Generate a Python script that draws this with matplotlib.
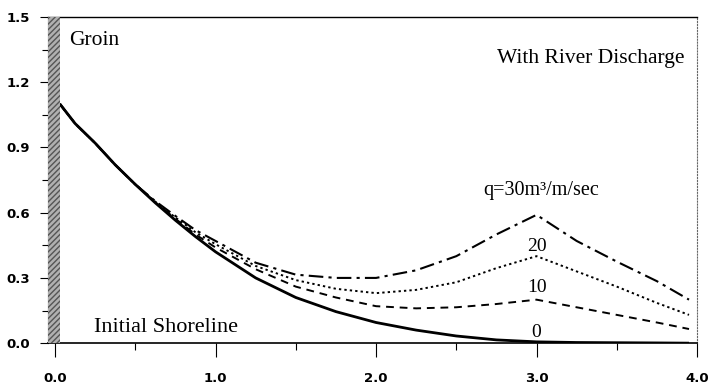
import matplotlib.pyplot as plt
from matplotlib.patches import Rectangle

# distance from groin and shoreline position
x = [0.03, 0.125, 0.25, 0.375, 0.5, 0.625, 0.75, 0.875, 1.0, 1.25, 1.5, 1.75, 2.0,
     2.25, 2.5, 2.75, 3.0, 3.25, 3.5, 3.75, 3.95]
y_q0 = [1.10, 1.01, 0.92, 0.82, 0.73, 0.645, 0.565, 0.49, 0.42, 0.30, 0.21, 0.145, 0.095,
        0.06, 0.033, 0.015, 0.006, 0.003, 0.002, 0.001, 0.0]
y_q10 = [1.10, 1.01, 0.92, 0.82, 0.73, 0.648, 0.572, 0.50, 0.44, 0.34, 0.26, 0.21, 0.17,
         0.16, 0.165, 0.18, 0.20, 0.165, 0.13, 0.095, 0.065]
y_q20 = [1.10, 1.01, 0.92, 0.82, 0.73, 0.65, 0.578, 0.51, 0.455, 0.355, 0.29, 0.25, 0.23,
         0.245, 0.28, 0.345, 0.40, 0.33, 0.26, 0.185, 0.13]
y_q30 = [1.10, 1.01, 0.92, 0.82, 0.73, 0.653, 0.585, 0.52, 0.47, 0.37, 0.315, 0.30, 0.30,
         0.335, 0.40, 0.50, 0.59, 0.47, 0.375, 0.285, 0.20]

x_ticks = [0.0, 1.0, 2.0, 3.0, 4.0]
y_ticks = [0.0, 0.3, 0.6, 0.9, 1.2, 1.5]

serif = ["Liberation Serif", "DejaVu Serif"]

fig = plt.figure(figsize=(7.13, 3.86), dpi=100)
ax = fig.add_axes([0.0673, 0.111, 0.9103, 0.845])

ax.plot(x, y_q0, color="black", lw=2.0, solid_capstyle="butt")
ax.plot(x, y_q10, color="black", lw=1.4, linestyle=(0, (4, 3)))
ax.plot(x, y_q20, color="black", lw=1.4, linestyle=(0, (1.2, 1.6)))
ax.plot(x, y_q30, color="black", lw=1.5, linestyle=(0, (7, 2.5, 1.5, 2.5)))

# groin
ax.add_patch(Rectangle((-0.044, 0), 0.074, 1.5, facecolor="#b0b0b0",
                       edgecolor="#555555", hatch="//////", lw=0, zorder=3))

ax.set_xlim(-0.044, 4.0)
ax.set_ylim(0, 1.5)
ax.set_xticks(x_ticks)
ax.set_xticklabels(["%.1f" % v for v in x_ticks])
ax.set_yticks(y_ticks)
ax.set_yticklabels(["%.1f" % v for v in y_ticks])
ax.set_xticks([0.5, 1.5, 2.5, 3.5], minor=True)
ax.set_yticks([0.15, 0.45, 0.75, 1.05, 1.35], minor=True)

ax.tick_params(axis="x", which="major", direction="out", length=10, width=0.8, pad=11)
ax.tick_params(axis="x", which="minor", direction="out", length=5, width=0.8)
ax.tick_params(axis="y", which="major", direction="out", length=6, width=0.8, pad=7)
ax.tick_params(axis="y", which="minor", direction="out", length=4, width=0.8)
for lab in ax.get_xticklabels() + ax.get_yticklabels():
    lab.set_fontfamily(["DejaVu Sans"])
    lab.set_fontweight("bold")
    lab.set_fontsize(9.5)

ax.spines["right"].set_linestyle(":")
ax.spines["right"].set_color("#666666")
ax.spines["top"].set_linewidth(1.0)
ax.spines["bottom"].set_linewidth(1.2)

ax.text(0.09, 1.39, "Groin", family=serif, fontsize=15.5, va="center", ha="left")
ax.text(3.92, 1.31, "With River Discharge", family=serif, fontsize=15.5, va="center", ha="right")
ax.text(0.24, 0.03, "Initial Shoreline", family=serif, fontsize=16, va="bottom", ha="left")
ax.text(2.67, 0.66, "q=30m\u00b3/m/sec", family=serif, fontsize=14.5, va="bottom", ha="left")
ax.text(3.0, 0.405, "20", family=serif, fontsize=14, va="bottom", ha="center")
ax.text(3.0, 0.215, "10", family=serif, fontsize=14, va="bottom", ha="center")
ax.text(3.0, 0.01, "0", family=serif, fontsize=14, va="bottom", ha="center")

fig.savefig("out.png", dpi=100)
